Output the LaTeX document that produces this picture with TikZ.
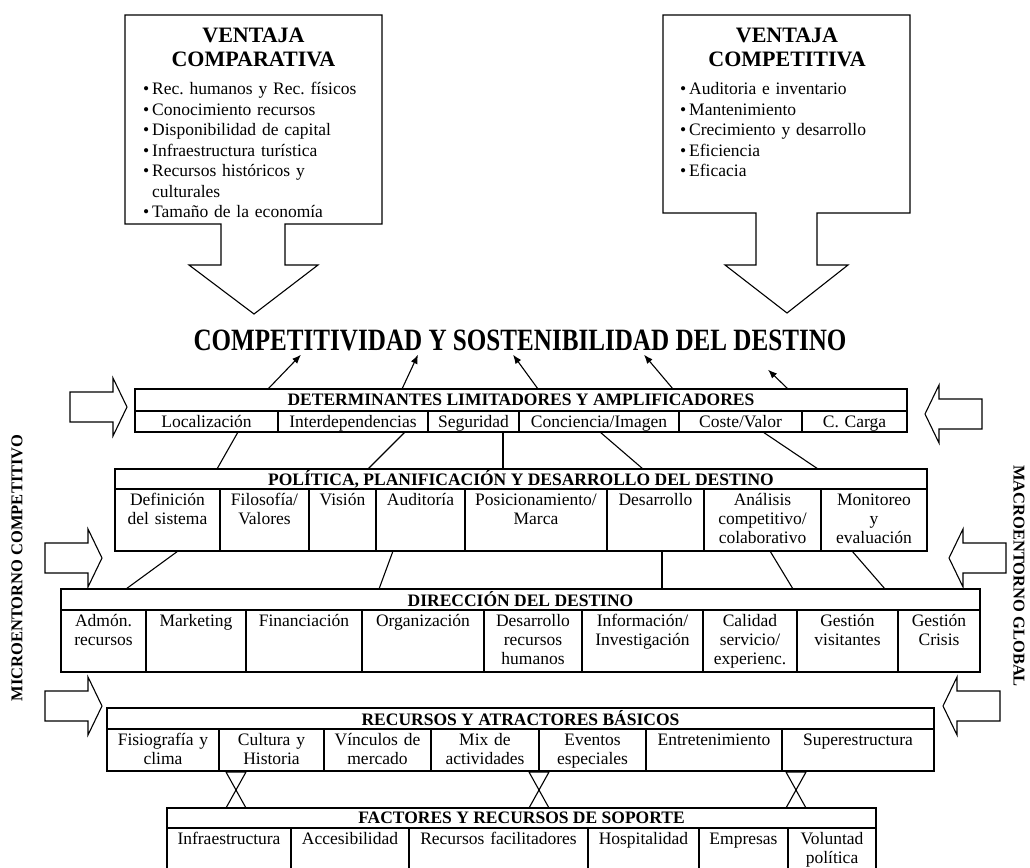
\documentclass[tikz,border=0pt]{standalone}
\usepackage{fontspec}
\usepackage{graphicx}
\setmainfont{Liberation Serif}
\usetikzlibrary{arrows.meta}
\frenchspacing

\newcommand{\cellfont}{\fontsize{17.5}{19}\selectfont}
\newcommand{\headfont}{\bfseries\fontsize{17.5}{19}\selectfont}
\newcommand{\listfont}{\fontsize{17.5}{20.5}\selectfont}
% one cell of a layer: name, left, right, top, bottom, text
\newcommand{\cellbox}[6]{%
  \pgfmathsetmacro\cellw{#3-#2}\pgfmathsetmacro\cellh{#5-#4}\pgfmathsetmacro\cellt{#3-#2-4}%
  \node[cellframe, minimum width=\cellw pt, minimum height=\cellh pt] (#1) at (#2,#4) {};
  \node[celltext, text width=\cellt pt] (#1t) at (#1.north) {#6};}
\newcommand{\bulletline}[1]{\par\hangindent=9pt\hangafter=1\noindent\makebox[9pt][l]{\textbullet}#1}

\begin{document}
\begin{tikzpicture}[x=1pt,y=-1pt,
  cellframe/.style={draw, line width=1.6pt, anchor=north west, inner sep=0pt, outer sep=0pt},
  celltext/.style={anchor=north, align=center, inner xsep=0pt, inner ysep=3pt, font=\cellfont, execute at begin node=\strut},
  headframe/.style={draw, line width=1.6pt, anchor=north west, inner sep=0pt, outer sep=0pt, font=\headfont},
  blockline/.style={draw, line width=1.1pt, fill=white},
  linkline/.style={line width=1.1pt},
  titlearrow/.style={-{Latex[length=9pt,width=7pt]}, line width=1.1pt},
  boxtitle/.style={anchor=north, align=center, inner sep=0pt, font=\bfseries\fontsize{22}{24}\selectfont},
  listtext/.style={anchor=north west, inner sep=0pt, text width=235pt, font=\listfont},
  sidetext/.style={inner sep=0pt, font=\bfseries\fontsize{16.5}{16.5}\selectfont}]
\useasboundingbox (0,0) rectangle (1030,867);

% top boxes with arrows
\draw[blockline] (125,15) -- (382,15) -- (382,224) -- (285,224) -- (285,265) -- (318,265) -- (254,314)
  -- (189,265) -- (221,265) -- (221,224) -- (125,224) -- cycle;
\draw[blockline] (663,15) -- (910,15) -- (910,213) -- (817,213) -- (817,265) -- (848,265) -- (787,313)
  -- (725,265) -- (756,265) -- (756,213) -- (663,213) -- cycle;
\node[boxtitle] (comphead) at (253.5,28) {VENTAJA\\COMPARATIVA};
\node[listtext] (complist) at (143,74) {\raggedright
  \bulletline{Rec. humanos y Rec. físicos}
  \bulletline{Conocimiento recursos}
  \bulletline{Disponibilidad de capital}
  \bulletline{Infraestructura turística}
  \bulletline{Recursos históricos y\newline culturales}
  \bulletline{Tamaño de la economía}};
\node[boxtitle] (compethead) at (787,28) {VENTAJA\\COMPETITIVA};
\node[listtext] (competlist) at (680,74) {\raggedright
  \bulletline{Auditoria e inventario}
  \bulletline{Mantenimiento}
  \bulletline{Crecimiento y desarrollo}
  \bulletline{Eficiencia}
  \bulletline{Eficacia}};

\node[anchor=base, inner sep=0pt, font=\bfseries\fontsize{31}{31}\selectfont] (title) at (520,350)
  {\scalebox{0.81}[1]{COMPETITIVIDAD Y SOSTENIBILIDAD DEL DESTINO}};

% side arrows
\draw[blockline] (127,407) -- ++(-14,-29) -- ++(0,14) -- ++(-43,0) -- ++(0,30) -- ++(43,0) -- ++(0,14) -- cycle;
\draw[blockline] (102,558) -- ++(-14,-29) -- ++(0,14) -- ++(-43,0) -- ++(0,30) -- ++(43,0) -- ++(0,14) -- cycle;
\draw[blockline] (102,706) -- ++(-14,-29) -- ++(0,14) -- ++(-43,0) -- ++(0,30) -- ++(43,0) -- ++(0,14) -- cycle;
\draw[blockline] (925,414) -- ++(14,-29) -- ++(0,14) -- ++(43,0) -- ++(0,30) -- ++(-43,0) -- ++(0,14) -- cycle;
\draw[blockline] (949,558) -- ++(14,-29) -- ++(0,14) -- ++(43,0) -- ++(0,30) -- ++(-43,0) -- ++(0,14) -- cycle;
\draw[blockline] (943,706) -- ++(14,-29) -- ++(0,14) -- ++(43,0) -- ++(0,30) -- ++(-43,0) -- ++(0,14) -- cycle;

\node[sidetext, rotate=90] (micro) at (17,568) {MICROENTORNO COMPETITIVO};
\node[sidetext, rotate=-90] (macro) at (1019,576) {MACROENTORNO GLOBAL};

% determinantes
\node[headframe, minimum width=772pt, minimum height=22pt] (det) at (135,389) {DETERMINANTES LIMITADORES Y AMPLIFICADORES};
\cellbox{loc}{135}{278}{411}{432}{Localización}
\cellbox{inter}{278}{428}{411}{432}{Interdependencias}
\cellbox{seg}{428}{519}{411}{432}{Seguridad}
\cellbox{conc}{519}{679}{411}{432}{Conciencia/Imagen}
\cellbox{coste}{679}{802}{411}{432}{Coste/Valor}
\cellbox{carga}{802}{907}{411}{432}{C. Carga}

% politica
\node[headframe, minimum width=812pt, minimum height=20pt] (pol) at (115,469) {POLÍTICA, PLANIFICACIÓN Y DESARROLLO DEL DESTINO};
\cellbox{def}{115}{220}{489}{551}{Definición\\del sistema}
\cellbox{filo}{220}{309}{489}{551}{Filosofía/\\Valores}
\cellbox{vis}{309}{376}{489}{551}{Visión}
\cellbox{aud}{376}{465}{489}{551}{Auditoría}
\cellbox{pos}{465}{607}{489}{551}{Posicionamiento/\\Marca}
\cellbox{desa}{607}{704}{489}{551}{Desarrollo}
\cellbox{ana}{704}{821}{489}{551}{Análisis\\competitivo/\\colaborativo}
\cellbox{moni}{821}{927}{489}{551}{Monitoreo\\y\\evaluación}

% direccion
\node[headframe, minimum width=919pt, minimum height=21pt] (dir) at (61,589) {DIRECCIÓN DEL DESTINO};
\cellbox{adm}{61}{146}{610}{672}{Admón.\\recursos}
\cellbox{mark}{146}{246}{610}{672}{Marketing}
\cellbox{fin}{246}{362}{610}{672}{Financiación}
\cellbox{org}{362}{484}{610}{672}{Organización}
\cellbox{drh}{484}{582}{610}{672}{Desarrollo\\recursos\\humanos}
\cellbox{info}{582}{703}{610}{672}{Información/\\Investigación}
\cellbox{cal}{703}{797}{610}{672}{Calidad\\servicio/\\experienc.}
\cellbox{gvis}{797}{898}{610}{672}{Gestión\\visitantes}
\cellbox{gcri}{898}{980}{610}{672}{Gestión\\Crisis}

% recursos
\node[headframe, minimum width=827pt, minimum height=21pt] (rec) at (107,708) {RECURSOS Y ATRACTORES BÁSICOS};
\cellbox{fis}{107}{219}{729}{771}{Fisiografía y\\clima}
\cellbox{cult}{219}{324}{729}{771}{Cultura y\\Historia}
\cellbox{vinc}{324}{431}{729}{771}{Vínculos de\\mercado}
\cellbox{mix}{431}{539}{729}{771}{Mix de\\actividades}
\cellbox{even}{539}{646}{729}{771}{Eventos\\especiales}
\cellbox{entre}{646}{782}{729}{771}{Entretenimiento}
\cellbox{super}{782}{934}{729}{771}{Superestructura}

% factores
\node[headframe, minimum width=709pt, minimum height=20pt] (fac) at (167,808) {FACTORES Y RECURSOS DE SOPORTE};
\cellbox{inf}{167}{291}{828}{885}{Infraestructura}
\cellbox{acc}{291}{409}{828}{885}{Accesibilidad}
\cellbox{rfac}{409}{588}{828}{885}{Recursos facilitadores}
\cellbox{hosp}{588}{699}{828}{885}{Hospitalidad}
\cellbox{emp}{699}{788}{828}{885}{Empresas}
\cellbox{vol}{788}{876}{828}{885}{Voluntad\\política}

% arrows to the title
\draw[titlearrow] ([xshift=-253pt]det.north) -- ([xshift=-219pt,yshift=-4pt]title.south);
\draw[titlearrow] ([xshift=-119pt]det.north) -- ([xshift=-102pt,yshift=-4pt]title.south);
\draw[titlearrow] ([xshift=17pt]det.north) -- ([xshift=-7pt,yshift=-4pt]title.south);
\draw[titlearrow] ([xshift=152pt]det.north) -- ([xshift=124pt,yshift=-4pt]title.south);
\draw[titlearrow] ([xshift=267pt]det.north) -- ([xshift=248pt,yshift=-19pt]title.south);

% links between layers
\draw[linkline] ([xshift=31.5pt]loc.south) -- ([xshift=-304pt]pol.north);
\draw[linkline] ([xshift=52pt]inter.south) -- ([xshift=-153pt]pol.north);
\draw[linkline] ([xshift=29.5pt]seg.south) -- ([xshift=-18pt]pol.north);
\draw[linkline] ([xshift=1pt]conc.south) -- ([xshift=122pt]pol.north);
\draw[linkline] ([xshift=22.5pt]coste.south) -- ([xshift=297pt]pol.north);

\draw[linkline] ([xshift=10.5pt]def.south) -- ([xshift=-394.5pt]dir.north);
\draw[linkline] ([xshift=-27.5pt]aud.south) -- ([xshift=-141.5pt]dir.north);
\draw[linkline] ([xshift=6.5pt]desa.south) -- ([xshift=141.5pt]dir.north);
\draw[linkline] ([xshift=7.5pt]ana.south) -- ([xshift=272.5pt]dir.north);
\draw[linkline] ([xshift=-22pt]moni.south) -- ([xshift=364.5pt]dir.north);

% hourglass joints
\draw[linkline] (226,772) -- (246,772) -- (226,808) -- (246,808) -- cycle;
\draw[linkline] (529,772) -- (549,772) -- (529,808) -- (549,808) -- cycle;
\draw[linkline] (786,772) -- (806,772) -- (786,808) -- (806,808) -- cycle;
\end{tikzpicture}
\end{document}
